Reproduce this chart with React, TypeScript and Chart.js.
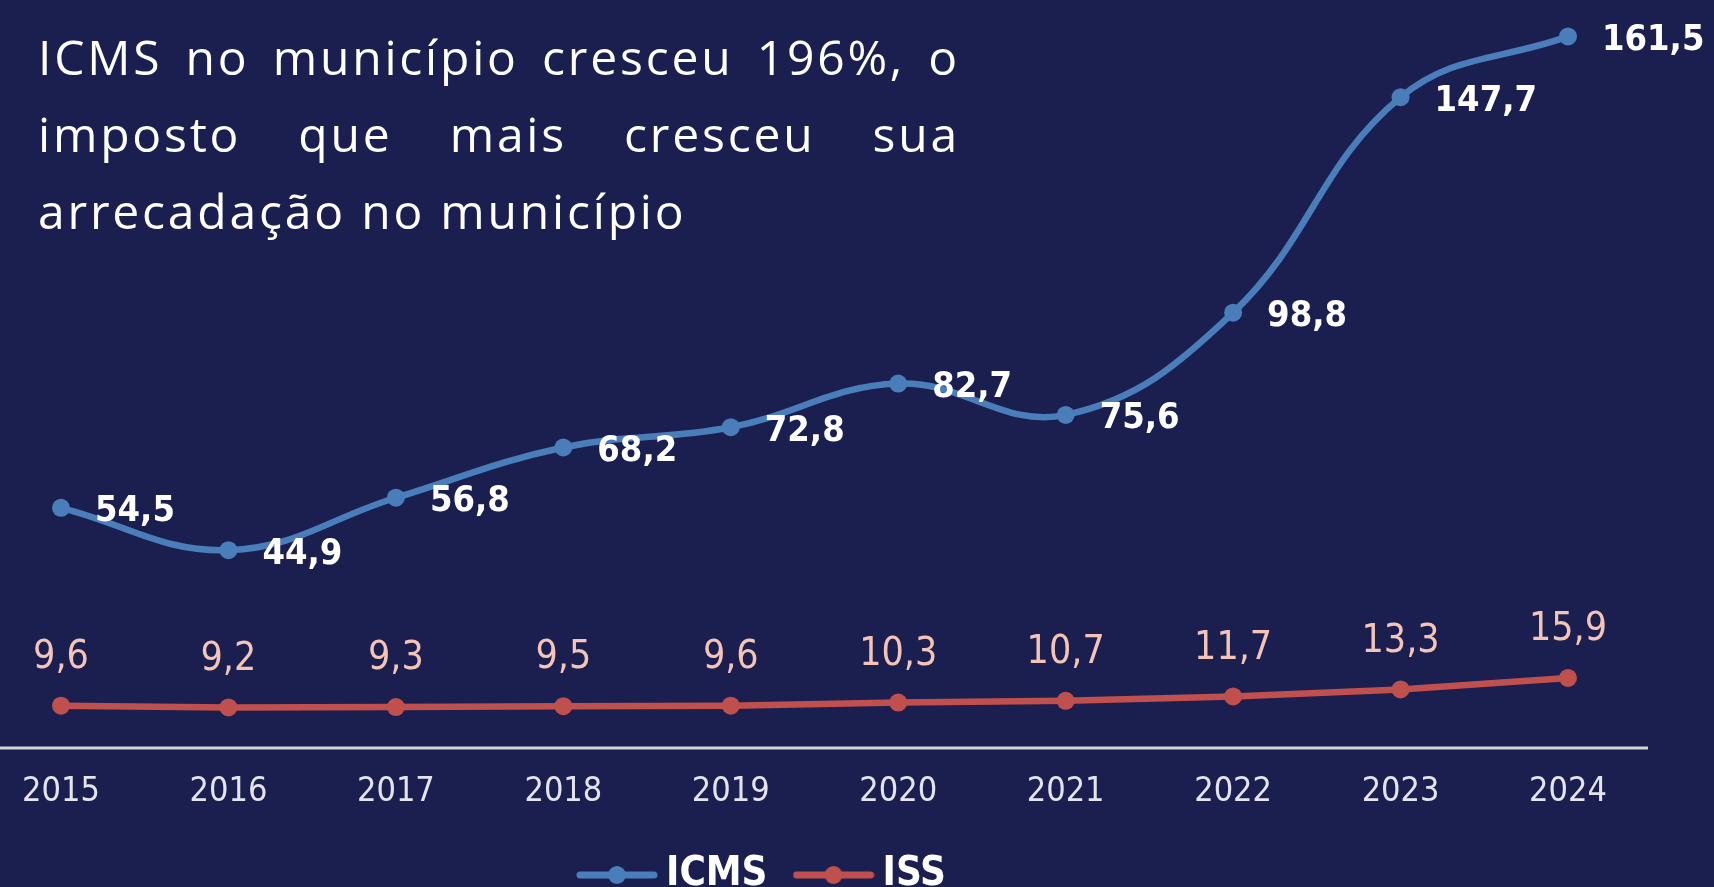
import React, { useEffect, useRef } from "react";
import { Chart, registerables } from "chart.js";

Chart.register(...registerables);

const years = ["2015", "2016", "2017", "2018", "2019", "2020", "2021", "2022", "2023", "2024"];
const icmsValues = [54.5, 44.9, 56.8, 68.2, 72.8, 82.7, 75.6, 98.8, 147.7, 161.5];
const issValues = [9.6, 9.2, 9.3, 9.5, 9.6, 10.3, 10.7, 11.7, 13.3, 15.9];
const seriesNames = ["ICMS", "ISS"];
const seriesColors = ["#4a7ebb", "#c0504d"];
const headlineLines = [
  "ICMS no município cresceu 196%, o",
  "imposto que mais cresceu sua",
  "arrecadação no município",
];

const BG = "#1b1f4f";
const NARROW = '"Liberation Sans Narrow", "DejaVu Sans Condensed", sans-serif';

const fmt = (v: number) => v.toFixed(1).replace(".", ",");

function legendImage(color: string): HTMLCanvasElement {
  const c = document.createElement("canvas");
  c.width = 82;
  c.height = 22;
  const g = c.getContext("2d")!;
  g.strokeStyle = color;
  g.lineWidth = 7;
  g.lineCap = "round";
  g.beginPath();
  g.moveTo(4, 11);
  g.lineTo(78, 11);
  g.stroke();
  g.fillStyle = color;
  g.beginPath();
  g.arc(41, 11, 9, 0, Math.PI * 2);
  g.fill();
  return c;
}

const baselinePlugin = {
  id: "baseline",
  beforeDatasetsDraw(chart: any) {
    const { ctx, chartArea, scales } = chart;
    const y0 = scales.y.getPixelForValue(0);
    ctx.save();
    ctx.strokeStyle = "#d4d4d8";
    ctx.lineWidth = 3;
    ctx.beginPath();
    ctx.moveTo(0, y0);
    ctx.lineTo(chartArea.right + 80, y0);
    ctx.stroke();
    ctx.restore();
  },
};

const valueLabelPlugin = {
  id: "valueLabels",
  afterDatasetsDraw(chart: any) {
    const ctx = chart.ctx;
    ctx.save();
    const m0 = chart.getDatasetMeta(0);
    ctx.font = `bold 36px ${NARROW}`;
    ctx.fillStyle = "#ffffff";
    ctx.textAlign = "left";
    ctx.textBaseline = "middle";
    m0.data.forEach((pt: any, i: number) => {
      ctx.fillText(fmt(icmsValues[i]), pt.x + 34, pt.y + 4);
    });
    const m1 = chart.getDatasetMeta(1);
    ctx.font = `39px ${NARROW}`;
    ctx.fillStyle = "#f4c4b6";
    ctx.textAlign = "center";
    m1.data.forEach((pt: any, i: number) => {
      ctx.fillText(fmt(issValues[i]), pt.x, pt.y - 48);
    });
    ctx.restore();
  },
};

const legendShiftPlugin = {
  id: "legendShift",
  afterLayout(chart: any) {
    const lg = chart.legend;
    if (!lg) return;
    const pad = lg.options.labels.padding;
    const w = lg.right - lg.left;
    lg.left = 588 - pad;
    lg.right = lg.left + w;
    lg.top = 818;
    lg.bottom = chart.height + 20;
    lg.height = lg.bottom - lg.top;
  },
};

export default function App() {
  const ref = useRef<HTMLCanvasElement | null>(null);

  useEffect(() => {
    if (!ref.current) return;
    const imgs = seriesColors.map(legendImage);
    const chart = new Chart(ref.current, {
      type: "line",
      data: {
        labels: years,
        datasets: [
          {
            label: seriesNames[0],
            data: icmsValues,
            borderColor: seriesColors[0],
            backgroundColor: seriesColors[0],
            borderWidth: 6.5,
            pointRadius: 9,
            pointBorderWidth: 0,
            tension: 0.4,
          },
          {
            label: seriesNames[1],
            data: issValues,
            borderColor: seriesColors[1],
            backgroundColor: seriesColors[1],
            borderWidth: 6.5,
            pointRadius: 9,
            pointBorderWidth: 0,
            tension: 0,
          },
        ],
      },
      options: {
        responsive: false,
        animation: false,
        layout: { padding: { top: 21, left: 61, right: 146, bottom: 0 } },
        scales: {
          x: {
            offset: false,
            grid: { display: false },
            border: { display: false },
            ticks: {
              color: "#e4e4ee",
              padding: 16,
              font: { family: NARROW, size: 34 },
              maxRotation: 0,
              autoSkip: false,
            },
            afterFit: (s: any) => {
              s.height = 89;
            },
          },
          y: {
            display: false,
            min: 0,
            max: 165,
          },
        },
        plugins: {
          tooltip: { enabled: false },
          legend: {
            position: "bottom",
            align: "start",
            maxHeight: 50,
            labels: {
              usePointStyle: true,
              pointStyleWidth: 58,
              padding: 37,
              color: "#ffffff",
              font: { family: NARROW, size: 40, weight: "bold" },
              generateLabels: (c: any) => {
                const base = Chart.defaults.plugins.legend.labels.generateLabels(c);
                return base.map((it: any, i: number) => ({ ...it, pointStyle: imgs[i] }));
              },
            },
          },
        },
      },
      plugins: [baselinePlugin, valueLabelPlugin, legendShiftPlugin],
    });
    return () => chart.destroy();
  }, []);

  return (
    <div
      style={{
        position: "absolute",
        left: 0,
        top: 0,
        width: 1714,
        height: 887,
        background: BG,
        overflow: "hidden",
      }}
    >
      <canvas ref={ref} width={1714} height={887} style={{ position: "absolute", left: 0, top: 0 }} />
      <div
        style={{
          position: "absolute",
          left: 38,
          top: 18,
          width: 922,
          fontFamily: '"Open Sans", sans-serif',
          fontWeight: 400,
          fontSize: 48,
          letterSpacing: "2.8px",
          lineHeight: "77px",
          color: "#ffffff",
        }}
      >
        {headlineLines.map((t, i) => (
          <div
            key={i}
            style={{
              textAlign: i < headlineLines.length - 1 ? "justify" : "left",
              textAlignLast: i < headlineLines.length - 1 ? "justify" : "left",
              whiteSpace: "nowrap",
            }}
          >
            {t}
          </div>
        ))}
      </div>
    </div>
  );
}
